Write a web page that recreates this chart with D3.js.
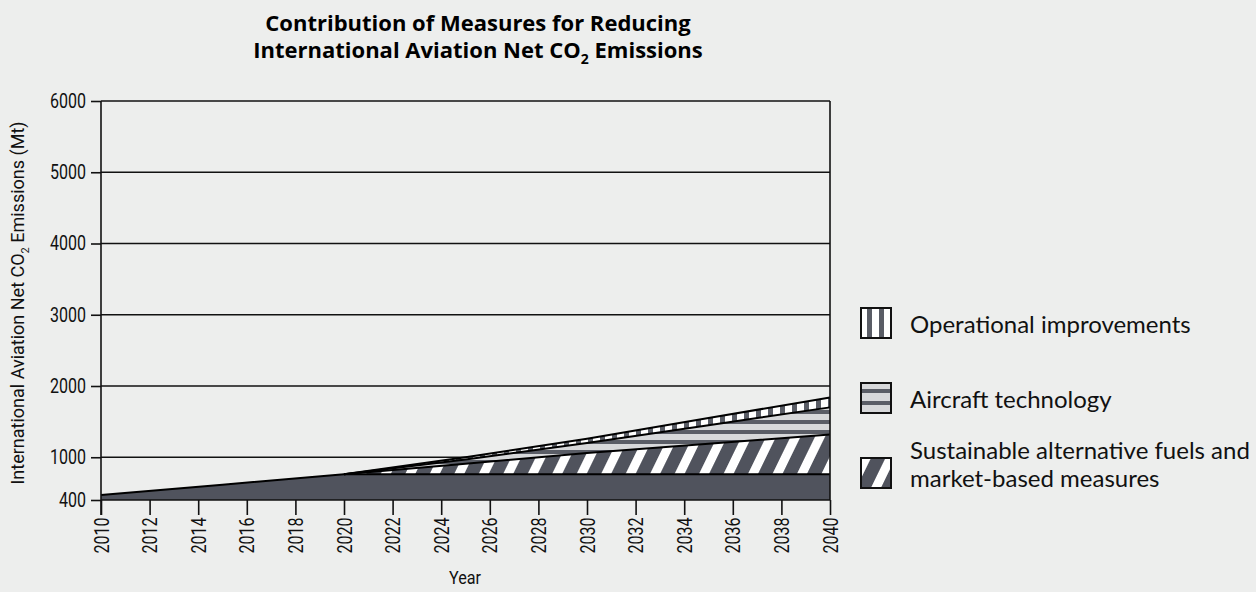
<!DOCTYPE html>
<html>
<head>
<meta charset="utf-8">
<script src="https://cdn.jsdelivr.net/npm/d3@7"></script>
<style>
  body { margin: 0; background: #edeeed; }
  svg { display: block; }
  .narrow { font-family: Roboto, sans-serif; }
</style>
</head>
<body>
<script>
// values (Mt CO2)
const years = [2010, 2015, 2020, 2025, 2030, 2035, 2040];
const baseline = [470, 615, 760, 760, 760, 760, 760];

const measureYears = [2020, 2025, 2030, 2035, 2040];
const fuels = [0, 150, 300, 430, 560];
const aircraft = [0, 60, 140, 260, 380];
const operational = [0, 30, 60, 100, 140];

const xTicks = d3.range(2010, 2041, 2);
const yTicks = [400, 1000, 2000, 3000, 4000, 5000, 6000];

const legendItems = [
  { key: "operational", label: ["Operational improvements"] },
  { key: "aircraft", label: ["Aircraft technology"] },
  { key: "fuels", label: ["Sustainable alternative fuels and", "market-based measures"] }
];

const dark = "#50535d";
const stripe = "#5a5d66";

const svg = d3.select("body").append("svg").attr("width", 1256).attr("height", 592);

const x = d3.scaleLinear().domain([2010, 2040]).range([101, 830]);
const y = d3.scaleLinear().domain([400, 6000]).range([500, 101]);

// patterns
const defs = svg.append("defs");
const diag = defs.append("pattern").attr("id", "diag")
    .attr("patternUnits", "userSpaceOnUse")
    .attr("width", 22).attr("height", 22)
    .attr("patternTransform", "rotate(26)");
diag.append("rect").attr("width", 22).attr("height", 22).attr("fill", dark);
diag.append("rect").attr("width", 9).attr("height", 22).attr("fill", "#fff");

const horiz = defs.append("pattern").attr("id", "horiz")
    .attr("patternUnits", "userSpaceOnUse")
    .attr("width", 10).attr("height", 10);
horiz.append("rect").attr("width", 10).attr("height", 10).attr("fill", "#d7d8da");
horiz.append("rect").attr("width", 10).attr("height", 4).attr("fill", stripe);

const vert = defs.append("pattern").attr("id", "vert")
    .attr("patternUnits", "userSpaceOnUse")
    .attr("width", 12).attr("height", 12);
vert.append("rect").attr("width", 12).attr("height", 12).attr("fill", "#fff");
vert.append("rect").attr("width", 5).attr("height", 12).attr("fill", stripe);

const fills = { fuels: "url(#diag)", aircraft: "url(#horiz)", operational: "url(#vert)" };

// gridlines
svg.append("g").selectAll("line")
    .data(yTicks.filter(d => d > 400))
    .enter().append("line")
      .attr("x1", 101).attr("x2", 830)
      .attr("y1", d => y(d)).attr("y2", d => y(d))
      .attr("stroke", "#111").attr("stroke-width", 1.6);

// baseline area
const baseRows = years.map((yr, i) => ({ year: yr, v: baseline[i] }));
svg.append("path")
    .datum(baseRows)
    .attr("fill", dark)
    .attr("d", d3.area().x(d => x(d.year)).y0(y(400)).y1(d => y(d.v)));

// stacked measures on top of the 2020 level
const rows = measureYears.map((yr, i) => ({
  year: yr,
  base: baseline[years.indexOf(yr)],
  fuels: fuels[i],
  aircraft: aircraft[i],
  operational: operational[i]
}));
const stacked = d3.stack().keys(["base", "fuels", "aircraft", "operational"])(rows);

const area = d3.area().x(d => x(d.data.year)).y0(d => y(d[0])).y1(d => y(d[1]));
svg.append("g").selectAll("path")
    .data(stacked.slice(1))
    .enter().append("path")
      .attr("fill", d => fills[d.key])
      .attr("d", area);

// outlines
const topLine = d3.line().x(d => x(d.data.year)).y(d => y(d[1]));
svg.append("g").selectAll("path")
    .data(stacked.slice(1))
    .enter().append("path")
      .attr("fill", "none").attr("stroke", "#000").attr("stroke-width", 2)
      .attr("d", topLine);
svg.append("path")
    .datum(baseRows)
    .attr("fill", "none").attr("stroke", "#000").attr("stroke-width", 2)
    .attr("d", d3.line().x(d => x(d.year)).y(d => y(d.v)));

// frame: right border
svg.append("line")
    .attr("x1", 830).attr("x2", 830).attr("y1", y(6000)).attr("y2", y(400))
    .attr("stroke", "#111").attr("stroke-width", 1.6);

// axes
const yAxis = svg.append("g")
    .attr("transform", "translate(101,0)")
    .call(d3.axisLeft(y).tickValues(yTicks).tickSize(10).tickFormat(d3.format("d")));
yAxis.select(".domain").attr("stroke", "#111").attr("stroke-width", 1.6)
    .attr("d", "M0," + y(6000) + "V515");
yAxis.selectAll(".tick line").attr("stroke", "#111").attr("stroke-width", 1.6);
yAxis.selectAll("text").attr("class", "narrow").attr("font-size", 20).attr("fill", "#111")
    .attr("x", 0).attr("transform", "translate(-15,0) scale(0.8,1)");

const xAxis = svg.append("g")
    .attr("transform", "translate(0,500)")
    .call(d3.axisBottom(x).tickValues(xTicks).tickSize(15).tickFormat(d3.format("d")));
xAxis.select(".domain").attr("stroke", "#111").attr("stroke-width", 1.6).attr("d", "M101,0H830");
xAxis.selectAll(".tick line").attr("stroke", "#111").attr("stroke-width", 1.6);
xAxis.selectAll("text")
    .attr("class", "narrow").attr("font-size", 20).attr("fill", "#111")
    .attr("transform", "rotate(-90) scale(0.8,1)")
    .attr("x", -22).attr("y", 0).attr("dy", "0.35em")
    .attr("text-anchor", "end");

// axis titles
svg.append("text")
    .attr("class", "narrow")
    .attr("transform", "translate(465,584) scale(0.85,1)")
    .attr("text-anchor", "middle").attr("font-size", 19).attr("fill", "#111")
    .text("Year");

const yTitle = svg.append("text")
    .attr("class", "narrow")
    .attr("transform", "translate(24,303) rotate(-90)")
    .attr("text-anchor", "middle").attr("font-size", 18).attr("fill", "#111");
yTitle.append("tspan").text("International Aviation Net CO");
yTitle.append("tspan").attr("font-size", 11).attr("dy", 5).text("2");
yTitle.append("tspan").attr("dy", -5).text(" Emissions (Mt)");

// title
const title = svg.append("g")
    .attr("font-family", "'Open Sans', sans-serif").attr("font-weight", "bold")
    .attr("font-size", 22).attr("fill", "#000");
title.append("text").attr("text-anchor", "middle")
    .attr("x", 478).attr("y", 31).text("Contribution of Measures for Reducing");
const t2 = title.append("text").attr("text-anchor", "middle").attr("x", 478).attr("y", 58);
t2.append("tspan").text("International Aviation Net CO");
t2.append("tspan").attr("font-size", 14).attr("dy", 6).text("2");
t2.append("tspan").attr("dy", -6).text(" Emissions");

// legend
const legend = svg.append("g").selectAll("g")
    .data(legendItems)
    .enter().append("g")
      .attr("transform", (d, i) => "translate(861," + (308 + i * 75) + ")");

legend.append("rect")
    .attr("width", 30).attr("height", 30)
    .attr("fill", d => d.key === "fuels" ? "url(#diag)" : (d.key === "aircraft" ? "#d7d8da" : "#fff"));
// legend stripes for the two straight patterns
legend.filter(d => d.key === "aircraft").selectAll("rect.s")
    .data([6, 18]).enter().append("rect")
      .attr("class", "s").attr("x", 0).attr("y", d => d).attr("width", 30).attr("height", 4).attr("fill", stripe);
legend.filter(d => d.key === "operational").selectAll("rect.s")
    .data([6, 18]).enter().append("rect")
      .attr("class", "s").attr("y", 0).attr("x", d => d).attr("height", 30).attr("width", 5).attr("fill", stripe);
legend.append("rect")
    .attr("width", 30).attr("height", 30)
    .attr("fill", "none").attr("stroke", "#111").attr("stroke-width", 2);

legend.append("text")
    .attr("font-family", "Lato, sans-serif").attr("font-size", 24).attr("fill", "#111")
    .attr("y", d => d.label.length > 1 ? 1 : 25)
    .selectAll("tspan")
    .data(d => d.label)
    .enter().append("tspan")
      .attr("x", 49)
      .attr("dy", (d, i) => i === 0 ? 0 : 28)
      .text(d => d);
</script>
</body>
</html>
